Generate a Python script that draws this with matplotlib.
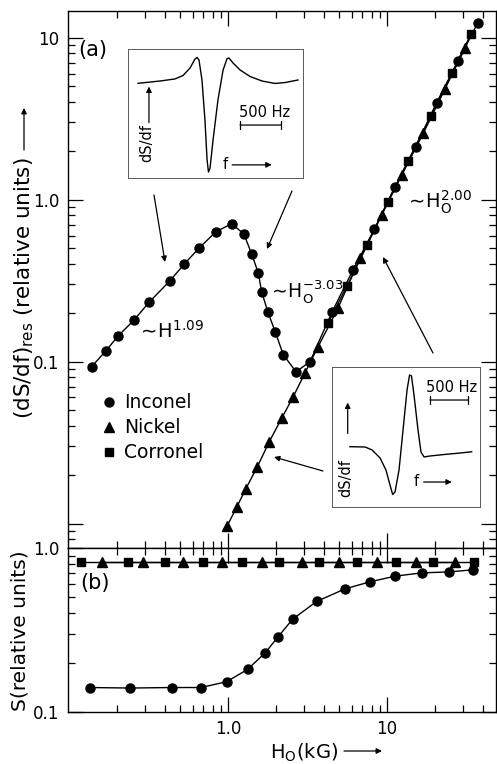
import matplotlib
matplotlib.use('Agg')
import matplotlib.pyplot as plt
import numpy as np
from matplotlib.lines import Line2D
from matplotlib.patches import FancyArrowPatch
from matplotlib.ticker import LogLocator, NullFormatter

W, H = 497, 764
plt.rcParams['font.family'] = ['DejaVu Sans']
plt.rcParams['mathtext.fontset'] = 'dejavusans'

# (a) resonance derivative amplitude vs field
inc_H = [0.139, 0.170, 0.204, 0.256, 0.320, 0.431, 0.531, 0.661, 0.838, 1.057,
         1.26, 1.41, 1.55, 1.63, 1.78, 1.98, 2.23, 2.68,
         3.28, 4.51, 6.11, 8.32, 11.2, 15.2, 20.5, 28.1, 37.2]
inc_dS = [0.093, 0.116, 0.144, 0.180, 0.233, 0.315, 0.400, 0.504, 0.632, 0.71,
          0.612, 0.461, 0.353, 0.269, 0.203, 0.153, 0.110, 0.0865,
          0.0997, 0.202, 0.367, 0.655, 1.19, 2.12, 3.96, 7.19, 12.3]
nic_H = [0.990, 1.134, 1.292, 1.529, 1.819, 2.175, 2.574, 3.05, 3.68, 4.92,
         6.77, 9.26, 12.4, 16.9, 23.1, 30.9]
nic_dS = [0.0097, 0.0126, 0.0163, 0.0224, 0.0320, 0.0446, 0.0607, 0.085, 0.123, 0.214,
          0.434, 0.802, 1.42, 2.56, 4.79, 8.58]
cor_H = [4.25, 5.60, 7.52, 10.1, 13.6, 18.8, 25.5, 33.7]
cor_dS = [0.173, 0.292, 0.524, 0.969, 1.74, 3.27, 6.01, 10.5]

# (b) signal amplitude S vs field
inc_S_H = [0.1355, 0.242, 0.447, 0.676, 0.981, 1.33, 1.71, 2.07, 2.55, 3.61,
           5.44, 7.82, 11.2, 16.5, 24.7, 34.6]
inc_S = [0.141, 0.140, 0.141, 0.141, 0.153, 0.182, 0.229, 0.288, 0.368, 0.472,
         0.563, 0.622, 0.673, 0.705, 0.715, 0.736]
nic_S_H = [0.161, 0.293, 0.524, 0.913, 1.63, 2.91, 5.01, 8.61, 15.2, 26.8]
nic_S = [0.82, 0.82, 0.82, 0.82, 0.82, 0.82, 0.82, 0.82, 0.82, 0.82]
cor_S_H = [0.1185, 0.236, 0.402, 0.700, 1.22, 2.08, 3.75, 6.50, 11.4, 19.6, 35.3]
cor_S = [0.82, 0.82, 0.82, 0.82, 0.82, 0.82, 0.82, 0.82, 0.82, 0.82, 0.82]

# inset line shapes (box fractions)
ins1_f = [0.059, 0.184, 0.269, 0.315, 0.355, 0.383, 0.395, 0.406, 0.423, 0.440, 0.452,
          0.460, 0.469, 0.486, 0.514, 0.543, 0.566, 0.577, 0.600, 0.640, 0.697,
          0.765, 0.839, 0.896, 0.970]
ins1_s = [0.735, 0.753, 0.769, 0.796, 0.854, 0.924, 0.936, 0.917, 0.761, 0.45, 0.138,
          0.044, 0.076, 0.294, 0.605, 0.838, 0.928, 0.932, 0.893, 0.839, 0.788,
          0.753, 0.734, 0.741, 0.761]
ins2_f = [0.123, 0.225, 0.272, 0.326, 0.366, 0.393, 0.411, 0.427, 0.454, 0.481, 0.508,
          0.525, 0.538, 0.555, 0.582, 0.602, 0.623, 0.663, 0.764, 0.865, 0.944]
ins2_s = [0.431, 0.429, 0.408, 0.351, 0.265, 0.159, 0.091, 0.109, 0.265, 0.55, 0.834,
          0.941, 0.934, 0.799, 0.55, 0.393, 0.358, 0.365, 0.376, 0.386, 0.395]


def fx(x):
    return x / W


def fy(y):
    return 1 - y / H


def box(l, t, r, b):
    return [fx(l), fy(b), fx(r) - fx(l), fy(t) - fy(b)]


fig = plt.figure(figsize=(W / 100, H / 100), dpi=100)
ax1 = fig.add_axes(box(68, 11, 496, 548))
ax2 = fig.add_axes(box(68, 548, 496, 712))

for ax in (ax1, ax2):
    ax.set_xscale('log')
    ax.set_yscale('log')
    ax.set_xlim(0.0986, 48.5)
    for s in ax.spines.values():
        s.set_linewidth(1.0)
    ax.tick_params(which='both', direction='in', top=True, right=True, width=0.9,
                   labelsize=12, pad=6)
    ax.tick_params(which='major', length=11)
    ax.tick_params(which='minor', length=5)
    ax.xaxis.set_minor_locator(LogLocator(base=10, subs=np.arange(2, 10)))
    ax.xaxis.set_minor_formatter(NullFormatter())
    ax.yaxis.set_minor_locator(LogLocator(base=10, subs=np.arange(2, 10)))
    ax.yaxis.set_minor_formatter(NullFormatter())
    ax.set_xticks([1, 10])

mk = dict(color='k', lw=1.0, mec='k', mfc='k')
ax1.plot(inc_H, inc_dS, marker='o', ms=6.5, **mk)
ax1.plot(nic_H, nic_dS, marker='^', ms=7, **mk)
ax1.plot(cor_H, cor_dS, marker='s', ms=5.5, **mk)
ax1.set_ylim(0.00706, 14.6)
ax1.set_yticks([0.01, 0.1, 1, 10])
ax1.set_yticklabels(['', '0.1', '1.0', '10'])
ax1.tick_params(labelbottom=False)

ax2.plot(inc_S_H, inc_S, marker='o', ms=6.5, **mk)
ax2.plot(nic_S_H, nic_S, marker='^', ms=7, **mk)
ax2.plot(cor_S_H, cor_S, marker='s', ms=5.5, **mk)
ax2.set_ylim(0.1, 1.0)
ax2.set_yticks([0.1, 1])
ax2.set_yticklabels(['0.1', '1.0'])
ax2.set_xticklabels(['1.0', '10'])

handles = [Line2D([], [], ls='none', marker='o', ms=6.5, color='k'),
           Line2D([], [], ls='none', marker='^', ms=7, color='k'),
           Line2D([], [], ls='none', marker='s', ms=5.5, color='k')]
ax1.legend(handles, ['Inconel', 'Nickel', 'Corronel'], loc='upper left',
           bbox_to_anchor=(fx(92), fy(384)), bbox_transform=fig.transFigure,
           frameon=False, fontsize=13.5, handlelength=0.8, handletextpad=0.4,
           labelspacing=0.32, borderpad=0)

arw = dict(arrowstyle='-|>', lw=0.9, color='k', mutation_scale=8, shrinkA=0, shrinkB=0)
bar = dict(arrowstyle='|-|', lw=0.9, color='k', mutation_scale=3, shrinkA=0, shrinkB=0)

# axis labels
fig.text(fx(24), fy(288), r'(dS/df)$_{\rm res}$ (relative units)',
         rotation=90, ha='center', va='center', fontsize=15.5)
fig.add_artist(FancyArrowPatch((fx(24), fy(150)), (fx(24), fy(108)),
                               transform=fig.transFigure, **arw))
fig.text(fx(20), fy(631), 'S(relative units)', rotation=90, ha='center', va='center',
         fontsize=14.5)
fig.text(fx(270), fy(753), r'H$_{\rm O}$(kG)', ha='left', va='center', fontsize=14)
fig.add_artist(FancyArrowPatch((fx(344), fy(751)), (fx(382), fy(751)),
                               transform=fig.transFigure, **arw))
fig.text(fx(78), fy(56), '(a)', fontsize=15, va='baseline')
fig.text(fx(80), fy(589), '(b)', fontsize=15, va='baseline')
fig.text(fx(137), fy(338), r'$\sim\!\mathrm{H}^{1.09}$', fontsize=14, va='baseline')
fig.text(fx(268), fy(298), r'$\sim\!\mathrm{H}_\mathrm{O}^{-3.03}$', fontsize=13.5,
         va='baseline')
fig.text(fx(405), fy(208), r'$\sim\!\mathrm{H}_\mathrm{O}^{2.00}$', fontsize=14, va='baseline')

# insets
ins1 = fig.add_axes(box(127.7, 49.3, 303.3, 177.7))
ins2 = fig.add_axes(box(331.7, 366.7, 480, 507.3))
for ins in (ins1, ins2):
    ins.set_xlim(0, 1)
    ins.set_ylim(0, 1)
    ins.set_xticks([])
    ins.set_yticks([])
    for s in ins.spines.values():
        s.set_linewidth(0.7)
        s.set_color('0.35')
    ins.patch.set_alpha(0)

ins1.plot(ins1_f, ins1_s, color='k', lw=1.0)
ins1.text(0.11, 0.27, 'dS/df', rotation=90, ha='center', va='center', fontsize=10.5)
ins1.annotate('', xy=(0.121, 0.71), xytext=(0.121, 0.43), arrowprops=arw)
ins1.text(0.78, 0.51, '500 Hz', ha='center', va='center', fontsize=10.5)
ins1.annotate('', xy=(0.875, 0.41), xytext=(0.64, 0.41), arrowprops=bar)
ins1.text(0.555, 0.10, 'f', ha='center', va='center', fontsize=10.5)
ins1.annotate('', xy=(0.82, 0.10), xytext=(0.595, 0.10), arrowprops=arw)

ins2.plot(ins2_f, ins2_s, color='k', lw=1.0)
ins2.text(0.096, 0.21, 'dS/df', rotation=90, ha='center', va='center', fontsize=10.5)
ins2.annotate('', xy=(0.108, 0.745), xytext=(0.108, 0.525), arrowprops=arw)
ins2.text(0.81, 0.85, '500 Hz', ha='center', va='center', fontsize=10.5)
ins2.annotate('', xy=(0.92, 0.763), xytext=(0.663, 0.763), arrowprops=bar)
ins2.text(0.568, 0.18, 'f', ha='center', va='center', fontsize=10.5)
ins2.annotate('', xy=(0.81, 0.18), xytext=(0.62, 0.18), arrowprops=arw)

# pointer arrows from insets to curves
for (x0, y0), (x1, y1) in [((154, 195), (165, 262)), ((292, 191), (267, 249)),
                           ((433, 353), (383, 257)), ((323, 471), (274, 457))]:
    fig.add_artist(FancyArrowPatch((fx(x0), fy(y0)), (fx(x1), fy(y1)),
                                   transform=fig.transFigure, **arw))

fig.savefig('out.png', dpi=100)
